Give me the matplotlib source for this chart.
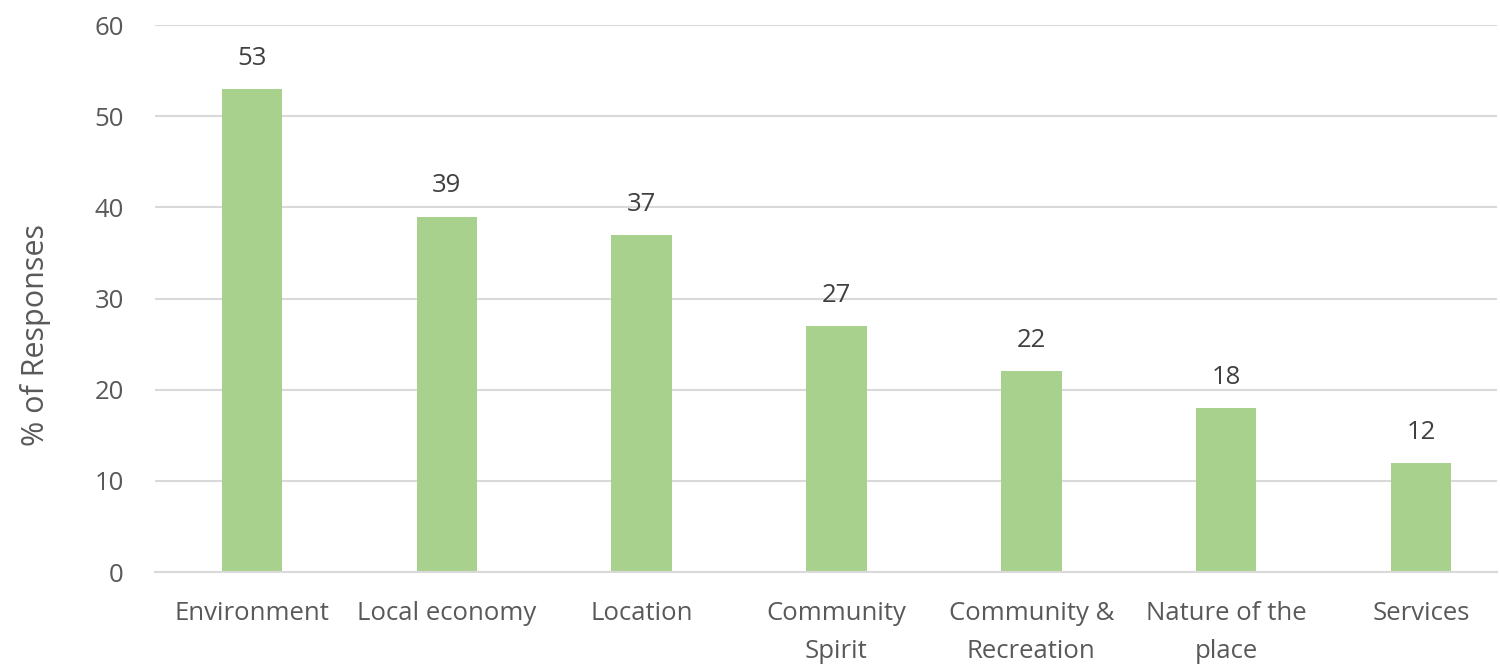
import matplotlib
matplotlib.use("Agg")
import matplotlib.pyplot as plt

categories = ["Environment", "Local economy", "Location", "Community\nSpirit",
              "Community &\nRecreation", "Nature of the\nplace", "Services"]
responses = [53, 39, 37, 27, 22, 18, 12]

BAR = "#A9D18E"
TXT = "#595959"
GRID = "#D9D9D9"

plt.rcParams["font.family"] = ["Open Sans", "DejaVu Sans"]

fig = plt.figure(figsize=(15, 6.67), dpi=100)
ax = fig.add_axes([0.103, 0.1424, 0.895, 0.82])

xs = range(len(categories))
ax.bar(xs, responses, width=0.31, color=BAR, zorder=2)
for x, v in zip(xs, responses):
    ax.annotate(f"{v}", (x, v), xytext=(0, 22), textcoords="offset points",
                ha="center", va="center", fontsize=18.5, color="#404040")

ax.set_ylim(0, 60)
ax.set_xlim(-0.5, 6.39)
ax.set_yticks(range(0, 61, 10))
ax.yaxis.grid(True, color=GRID, lw=1.5, zorder=0)
ax.set_xticks(list(xs))
ax.set_xticklabels(categories, fontsize=18.5, color=TXT, linespacing=1.65)
ax.tick_params(axis="y", labelsize=18.5, labelcolor=TXT, length=0, pad=22)
ax.tick_params(axis="x", length=0, pad=21)
for s in ("top", "right", "left"):
    ax.spines[s].set_visible(False)
ax.spines["bottom"].set_color(GRID)
ax.spines["bottom"].set_linewidth(1.5)
ax.set_ylabel("% of Responses", fontsize=22, color=TXT)
ax.yaxis.set_label_coords(-0.077, 0.433)

fig.savefig("out.png", dpi=100)
